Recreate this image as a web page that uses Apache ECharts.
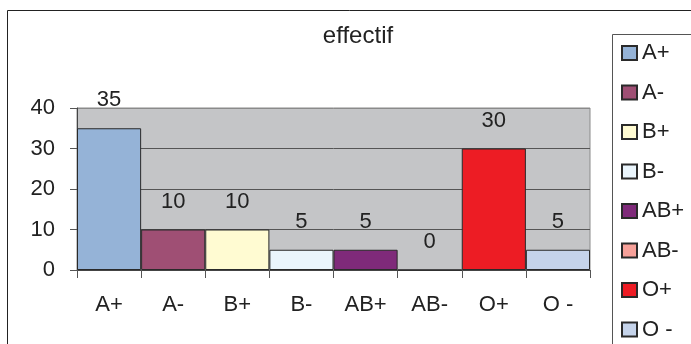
<!DOCTYPE html>
<html>
<head>
<meta charset="utf-8">
<script src="https://cdn.jsdelivr.net/npm/echarts@6/dist/echarts.min.js"></script>
<style>html,body{margin:0;padding:0;background:#fff}#c{width:691px;height:344px}</style>
</head>
<body>
<div id="c"></div>
<script>
var categories = ['A+', 'A-', 'B+', 'B-', 'AB+', 'AB-', 'O+', 'O -'];
var values = [35, 10, 10, 5, 5, 0, 30, 5];
var colors = ['#95b3d7', '#9f4f74', '#fffbd2', '#eaf5fc', '#7f2a7a', '#f7a19a', '#ed1c24', '#c5d3ea'];
var yTicks = [0, 10, 20, 30, 40];

var FONT = '"Liberation Sans", Arial, sans-serif';
var FS = 22;
var series = categories.map(function (name, i) {
  var data = categories.map(function (c, j) { return j === i ? values[i] : '-'; });
  return {
    name: name,
    type: 'bar',
    stack: 'all',
    barCategoryGap: '0%',
    data: data,
    itemStyle: { color: colors[i], borderColor: '#2a2a2a', borderWidth: 1 },
    label: { show: true, position: 'top', distance: 17, fontSize: FS, color: '#222', fontFamily: FONT },
    emphasis: { disabled: true }
  };
});

var chart = echarts.init(document.getElementById('c'));
chart.setOption({
  animation: false,
  backgroundColor: '#fff',
  textStyle: { fontFamily: FONT },
  title: {
    text: 'effectif', left: 353, top: 19, textAlign: 'center',
    textStyle: { fontSize: 24, fontWeight: 'normal', color: '#222', fontFamily: FONT }
  },
  graphic: [
    { type: 'rect', silent: true, z: -1, shape: { x: 7.5, y: 10.5, width: 700, height: 400 }, style: { fill: 'none', stroke: '#222', lineWidth: 1 } },
    { type: 'rect', silent: true, z: -1, shape: { x: 612.5, y: 34.5, width: 100, height: 400 }, style: { fill: 'none', stroke: '#555', lineWidth: 1 } }
  ],
  legend: {
    orient: 'vertical', left: 621, top: 42, padding: 0,
    itemWidth: 15, itemHeight: 14, itemGap: 17.5,
    icon: 'rect',
    data: categories,
    textStyle: { fontSize: FS, lineHeight: 22, color: '#222', fontFamily: FONT }
  },
  grid: {
    left: 77, right: 101, top: 108, bottom: 74,
    show: true, backgroundColor: '#c4c5c7', borderColor: '#8a8a8a', borderWidth: 1
  },
  xAxis: {
    type: 'category', data: categories,
    axisLine: { lineStyle: { color: '#444', width: 1 } },
    axisTick: { show: true, length: 8, lineStyle: { color: '#555' } },
    axisLabel: { fontSize: FS, color: '#222', margin: 24, fontFamily: FONT }
  },
  yAxis: {
    type: 'value', min: yTicks[0], max: yTicks[yTicks.length - 1], interval: 10,
    axisLine: { show: true, lineStyle: { color: '#444' } },
    axisTick: { show: true, length: 7, lineStyle: { color: '#555' } },
    axisLabel: { fontSize: FS, color: '#222', margin: 22, fontFamily: FONT },
    splitLine: { show: true, lineStyle: { color: ['#555', '#555', '#555', '#555', '#8a8a8a'], width: 1 } }
  },
  series: series
});
</script>
</body>
</html>
